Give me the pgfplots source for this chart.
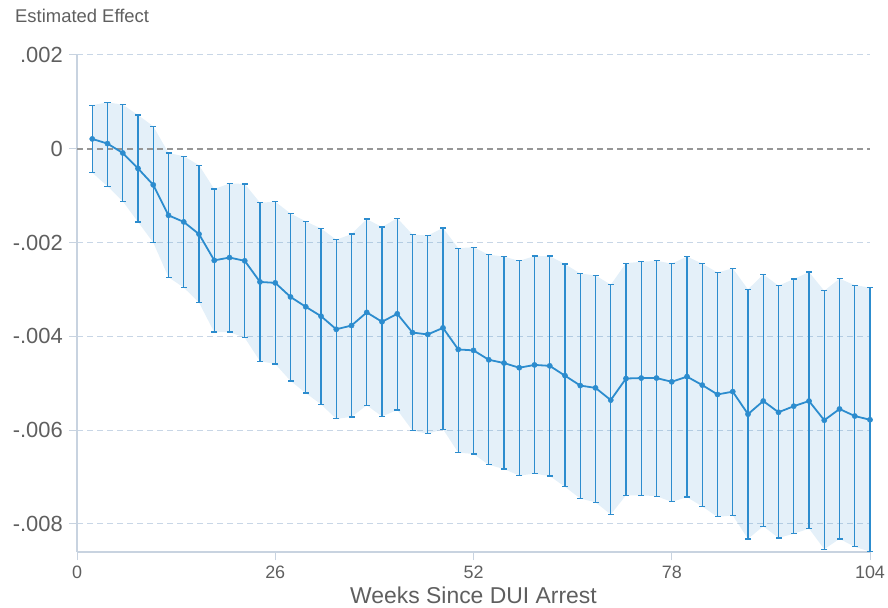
\documentclass[border=0pt]{standalone}
\usepackage{fontspec}
\setmainfont{Liberation Sans}
\usepackage{pgfplots}
\pgfplotsset{compat=1.18}
\usepgfplotslibrary{fillbetween}
\usepackage{pgfplotstable}
\definecolor{mainblue}{RGB}{44,140,206}
\definecolor{axgray}{RGB}{200,211,224}
\definecolor{gridc}{RGB}{200,214,230}
\definecolor{txt}{RGB}{95,95,95}
\definecolor{zerog}{RGB}{150,150,150}
\pgfplotstableread{
x b up lo
2 0.00021 0.00093 -0.00051
4 0.00011 0.00099 -0.00080
6 -0.00009 0.00094 -0.00112
8 -0.00042 0.00072 -0.00156
10 -0.00077 0.00048 -0.00200
12 -0.00142 -0.00009 -0.00274
14 -0.00156 -0.00016 -0.00296
16 -0.00182 -0.00035 -0.00328
18 -0.00238 -0.00086 -0.00391
20 -0.00232 -0.00074 -0.00391
22 -0.00239 -0.00075 -0.00403
24 -0.00284 -0.00115 -0.00453
26 -0.00286 -0.00113 -0.00459
28 -0.00316 -0.00138 -0.00495
30 -0.00337 -0.00155 -0.00521
32 -0.00357 -0.00170 -0.00545
34 -0.00385 -0.00194 -0.00576
36 -0.00377 -0.00182 -0.00572
38 -0.00349 -0.00150 -0.00547
40 -0.00369 -0.00167 -0.00571
42 -0.00352 -0.00148 -0.00557
44 -0.00392 -0.00183 -0.00601
46 -0.00396 -0.00185 -0.00608
48 -0.00382 -0.00169 -0.00598
50 -0.00428 -0.00212 -0.00648
52 -0.00430 -0.00210 -0.00651
54 -0.00450 -0.00226 -0.00674
56 -0.00457 -0.00230 -0.00683
58 -0.00467 -0.00239 -0.00697
60 -0.00461 -0.00229 -0.00693
62 -0.00463 -0.00229 -0.00698
64 -0.00484 -0.00246 -0.00721
66 -0.00505 -0.00266 -0.00746
68 -0.00510 -0.00270 -0.00754
70 -0.00536 -0.00290 -0.00780
72 -0.00490 -0.00244 -0.00739
74 -0.00489 -0.00241 -0.00739
76 -0.00489 -0.00239 -0.00741
78 -0.00497 -0.00245 -0.00753
80 -0.00486 -0.00230 -0.00743
82 -0.00504 -0.00245 -0.00763
84 -0.00524 -0.00264 -0.00785
86 -0.00518 -0.00255 -0.00782
88 -0.00566 -0.00300 -0.00832
90 -0.00538 -0.00268 -0.00805
92 -0.00562 -0.00292 -0.00830
94 -0.00549 -0.00278 -0.00821
96 -0.00538 -0.00263 -0.00810
98 -0.00579 -0.00303 -0.00854
100 -0.00555 -0.00277 -0.00832
102 -0.00570 -0.00291 -0.00849
104 -0.00578 -0.00296 -0.00859
}\data
\begin{document}
\begin{tikzpicture}
\begin{axis}[
  scale only axis, width=793bp, height=497bp,
  xmin=0, xmax=104, ymin=-0.0086, ymax=0.002,
  axis x line*=bottom, axis y line*=left,
  axis line style={axgray, line width=1.5bp},
  xtick={0,26,52,78,104},
  xticklabels={0,26,52,78,104},
  ytick={-0.008,-0.006,-0.004,-0.002,0,0.002},
  yticklabels={-.008,-.006,-.004,-.002,0,.002},
  scaled y ticks=false,
  tick align=outside, major tick length=8bp,
  tick style={axgray, line width=1bp},
  ymajorgrids,
  grid style={gridc, line width=1bp, dash pattern=on 6bp off 4bp},
  yticklabel style={font=\fontsize{22}{22}\selectfont, text=txt, inner sep=0pt, xshift=-6bp},
  xticklabel style={font=\fontsize{18}{18}\selectfont, text=txt, inner sep=0pt, yshift=-6bp},
  clip=false,
]
\addplot[name path=up, draw=none, forget plot] table[x=x, y=up] {\data};
\addplot[name path=lo, draw=none, forget plot] table[x=x, y=lo] {\data};
\addplot[fill=mainblue, fill opacity=0.13, draw=none] fill between[of=up and lo];
\draw[zerog, line width=2bp, dash pattern=on 6bp off 4bp] (axis cs:0,0) -- (axis cs:104,0);
\addplot[mainblue, line width=1.8bp, mark=*, mark size=2.6bp,
  mark options={fill=mainblue, draw=mainblue, line width=0.5bp},
  error bars/.cd, y dir=both, y explicit,
  error bar style={line width=1.3bp, mainblue},
  error mark options={mainblue, line width=1.3bp, mark size=3bp, rotate=90}]
  table[x=x, y=b, y error plus expr=\thisrow{up}-\thisrow{b}, y error minus expr=\thisrow{b}-\thisrow{lo}] {\data};
\node[anchor=base west, font=\fontsize{18.5}{18.5}\selectfont, text=txt, inner sep=0pt, xshift=-62bp, yshift=32bp] at (rel axis cs:0,1) {Estimated Effect};
\node[anchor=base, font=\fontsize{23}{23}\selectfont, text=txt, inner sep=0pt, yshift=-51bp] at (rel axis cs:0.5,0) {Weeks Since DUI Arrest};
\end{axis}
\pgfresetboundingbox
\path[use as bounding box] (current axis.south west) ++(-77bp,-56bp) rectangle ++(888bp,608bp);
\end{tikzpicture}
\end{document}
